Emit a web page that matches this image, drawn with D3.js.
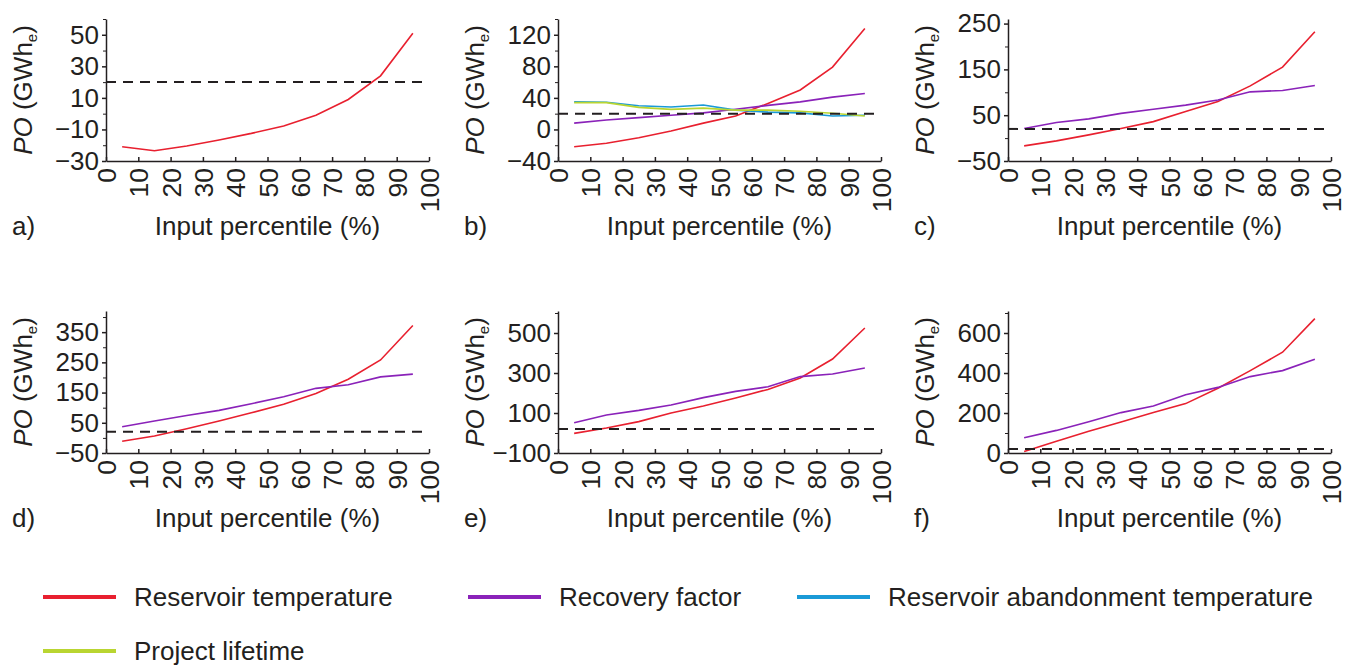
<!DOCTYPE html>
<html>
<head>
<meta charset="utf-8">
<script src="https://cdn.jsdelivr.net/npm/d3@7"></script>
<style>
  body { margin: 0; background: #fff; }
  svg { font-family: Arial, "Liberation Sans", sans-serif; }
</style>
</head>
<body>
<div class="canvas"></div>
<script>
// input percentiles (x) and tick labels
const percentiles = [5, 15, 25, 35, 45, 55, 65, 75, 85, 95];
const xTicks = [0, 10, 20, 30, 40, 50, 60, 70, 80, 90, 100];
const threshold = 20;

// PO values (GWhe)
const aTemp = [-21, -23.5, -20.5, -16.7, -12.5, -7.8, -1, 9, 24, 51];

const bTemp = [-22, -17.5, -10.5, -2, 8, 17, 33, 50, 79, 128];
const bRecovery = [8, 12, 15, 18, 21, 25.5, 30.5, 35, 41, 45.5];
const bAbandon = [35, 34.5, 30, 28.5, 31, 24.5, 22, 21, 17, 18];
const bLifetime = [34, 34, 28, 25.5, 27, 24.5, 24.5, 23, 20.5, 17];

const cTemp = [-17, -6, 7, 21, 36, 58, 80, 114, 155, 232];
const cRecovery = [21, 34, 42, 54, 63, 72, 83, 101, 104, 115];

const dTemp = [-11, 6, 30, 56, 83, 111, 147, 194, 258, 372];
const dRecovery = [37, 56, 74, 91, 113, 136, 164, 176, 202, 211];

const eTemp = [-2, 25, 57, 100, 135, 175, 218, 275, 370, 525];
const eRecovery = [51, 90, 113, 140, 177, 208, 231, 282, 295, 325];

const fTemp = [8, 59, 109, 155, 202, 247, 324, 412, 504, 672];
const fRecovery = [76, 113, 156, 202, 235, 291, 328, 382, 412, 469];

// y tick labels (major) and unlabelled minor ticks
const aTicks = [-30, -10, 10, 30, 50], aMinor = [-20, 0, 20, 40, 60];
const bTicks = [-40, 0, 40, 80, 120], bMinor = [-20, 20, 60, 100, 140];
const cTicks = [-50, 50, 150, 250], cMinor = [0, 100, 200];
const dTicks = [-50, 50, 150, 250, 350], dMinor = [0, 100, 200, 300, 400];
const eTicks = [-100, 100, 300, 500], eMinor = [0, 200, 400, 600];
const fTicks = [0, 200, 400, 600], fMinor = [100, 300, 500, 700];

const legendNames = ['Reservoir temperature', 'Recovery factor', 'Reservoir abandonment temperature', 'Project lifetime'];

const colors = {
  temp: '#e8202f',
  recovery: '#8a22b9',
  abandon: '#1a9ad7',
  lifetime: '#b9d531'
};
const legendKeys = ['temp', 'recovery', 'abandon', 'lifetime'];

const panels = [
  { label: 'a)', domain: [-30, 60], ticks: aTicks, minor: aMinor, series: [['temp', aTemp]] },
  { label: 'b)', domain: [-40, 140], ticks: bTicks, minor: bMinor,
    series: [['temp', bTemp], ['recovery', bRecovery], ['abandon', bAbandon], ['lifetime', bLifetime]] },
  { label: 'c)', domain: [-50, 260], ticks: cTicks, minor: cMinor, series: [['temp', cTemp], ['recovery', cRecovery]] },
  { label: 'd)', domain: [-50, 420], ticks: dTicks, minor: dMinor, series: [['temp', dTemp], ['recovery', dRecovery]] },
  { label: 'e)', domain: [-100, 610], ticks: eTicks, minor: eMinor, series: [['temp', eTemp], ['recovery', eRecovery]] },
  { label: 'f)', domain: [0, 710], ticks: fTicks, minor: fMinor, series: [['temp', fTemp], ['recovery', fRecovery]] }
];

const dims = { width: 323, height: 142 };
const cols = [106, 558, 1008];
const rows = [19, 311];
const ink = '#231f20';

const svg = d3.select('.canvas')
  .append('svg')
  .attr('width', 1356)
  .attr('height', 667);

panels.forEach((p, i) => {
  const graph = svg.append('g')
    .attr('transform', `translate(${cols[i % 3]}, ${rows[Math.floor(i / 3)]})`);

  const x = d3.scaleLinear().domain([0, 100]).range([0, dims.width]);
  const y = d3.scaleLinear().domain(p.domain).range([dims.height, 0]);

  // series lines
  const line = d3.line()
    .x((d, j) => x(percentiles[j]))
    .y(d => y(d));

  p.series.forEach(([key, values]) => {
    graph.append('path')
      .datum(values)
      .attr('fill', 'none')
      .attr('stroke', colors[key])
      .attr('stroke-width', 1.6)
      .attr('d', line);
  });

  // threshold line
  graph.append('line')
    .attr('x1', x(0))
    .attr('x2', x(100))
    .attr('y1', y(threshold))
    .attr('y2', y(threshold))
    .attr('stroke', ink)
    .attr('stroke-width', 2)
    .attr('stroke-dasharray', '10,7');

  // axes
  const yAxisMinor = d3.axisLeft(y).tickValues(p.minor).tickSize(3).tickFormat('');
  const yAxis = d3.axisLeft(y).tickValues(p.ticks).tickSize(4).tickSizeOuter(0).tickPadding(3);
  const xAxis = d3.axisBottom(x).tickValues(xTicks).tickSize(-4).tickSizeOuter(0);

  graph.append('g').call(yAxisMinor).call(g => g.select('.domain').remove());

  const yG = graph.append('g').call(yAxis);
  yG.selectAll('text')
    .attr('font-size', 26)
    .attr('fill', ink);

  const xG = graph.append('g')
    .attr('transform', `translate(0, ${dims.height})`)
    .call(xAxis);
  xG.selectAll('text')
    .attr('transform', 'rotate(-90)')
    .attr('text-anchor', 'end')
    .attr('x', -7)
    .attr('y', 0)
    .attr('dy', '0.36em')
    .attr('font-size', 26.5)
    .attr('fill', ink);

  [yG, xG].forEach(g => {
    g.selectAll('.domain, line').attr('stroke', ink).attr('stroke-width', 1.5);
  });
  graph.selectAll('g line').attr('stroke', ink);

  // y title
  const yTitle = graph.append('text')
    .attr('transform', `translate(-74, ${dims.height / 2}) rotate(-90)`)
    .attr('text-anchor', 'middle')
    .attr('font-size', 26)
    .attr('fill', ink);
  yTitle.append('tspan').attr('font-style', 'italic').text('PO');
  yTitle.append('tspan').text(' (GWh');
  yTitle.append('tspan').attr('font-size', 15).attr('dy', 5).text('e');
  yTitle.append('tspan').attr('dy', -5).text(')');

  // x title
  graph.append('text')
    .attr('x', dims.width / 2)
    .attr('y', dims.height + 74)
    .attr('text-anchor', 'middle')
    .attr('font-size', 26)
    .attr('fill', ink)
    .text('Input percentile (%)');

  // panel letter
  graph.append('text')
    .attr('x', -94)
    .attr('y', dims.height + 74)
    .attr('font-size', 26)
    .attr('fill', ink)
    .text(p.label);
});

// legend
const legendPos = [[43, 597], [468, 597], [797, 597], [43, 651]];
const legend = svg.append('g');

legendNames.forEach((name, i) => {
  const [lx, ly] = legendPos[i];
  legend.append('line')
    .attr('x1', lx).attr('x2', lx + 73)
    .attr('y1', ly).attr('y2', ly)
    .attr('stroke', colors[legendKeys[i]])
    .attr('stroke-width', 4);
  legend.append('text')
    .attr('x', lx + 91)
    .attr('y', ly)
    .attr('dy', '0.35em')
    .attr('font-size', 26)
    .attr('fill', ink)
    .text(name);
});
</script>
</body>
</html>
